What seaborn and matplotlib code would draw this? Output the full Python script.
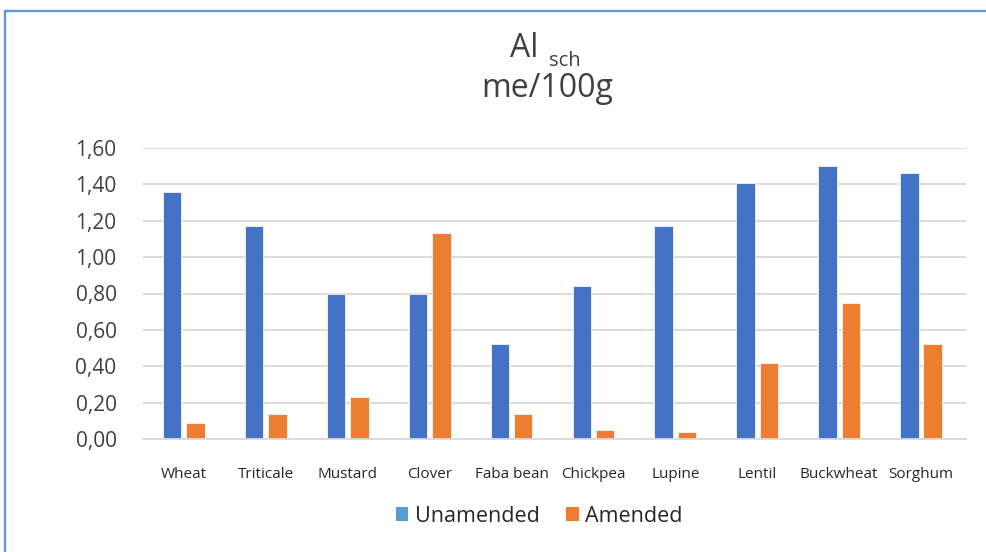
import matplotlib
matplotlib.use("Agg")
import matplotlib.pyplot as plt
from matplotlib.patches import Patch
from matplotlib.lines import Line2D
from matplotlib.ticker import FuncFormatter, FixedLocator
import numpy as np
import pandas as pd
import seaborn as sns

crops = ["Wheat", "Triticale", "Mustard", "Clover", "Faba bean",
         "Chickpea", "Lupine", "Lentil", "Buckwheat", "Sorghum"]
unamended = [1.36, 1.17, 0.80, 0.80, 0.52, 0.84, 1.17, 1.41, 1.50, 1.46]
amended = [0.09, 0.14, 0.23, 1.13, 0.14, 0.05, 0.04, 0.42, 0.75, 0.52]
series = ["Unamended", "Amended"]
y_ticks = [0.0, 0.2, 0.4, 0.6, 0.8, 1.0, 1.2, 1.4, 1.6]

BLUE = "#4472C4"
ORANGE = "#ED7D31"
LEGEND_BLUE = "#5B9BD5"
TEXT = "#404040"
GRID = "#D9D9D9"

df = pd.DataFrame({
    "crop": crops * 2,
    "value": unamended + amended,
    "treatment": [series[0]] * len(crops) + [series[1]] * len(crops),
})

sns.set_theme(style="white")
plt.rcParams["font.family"] = ["Open Sans", "DejaVu Sans"]

W, H = 987, 552
fig = plt.figure(figsize=(W / 100, H / 100), dpi=100)
ax = fig.add_axes([143 / W, 1 - 439 / H, (966 - 143) / W, (439 - 148) / H])

sns.barplot(data=df, x="crop", y="value", hue="treatment", order=crops,
            hue_order=series, palette=[BLUE, ORANGE], saturation=1,
            width=0.57, gap=0.21, edgecolor="#F4F7FC", linewidth=0.6,
            legend=False, ax=ax)

ax.set_xlim(-0.5, 9.55)
ax.set_ylim(0, 1.6)
ax.set_yticks(y_ticks)
ax.yaxis.set_major_formatter(FuncFormatter(lambda v, _: f"{v:.2f}".replace(".", ",")))
ax.yaxis.grid(True, color=GRID, linewidth=1.3)
ax.set_axisbelow(True)
ax.set_xlabel("")
ax.set_ylabel("")

for side in ["top", "right", "left"]:
    ax.spines[side].set_visible(False)
ax.spines["bottom"].set_color(GRID)
ax.spines["bottom"].set_linewidth(1.3)

ax.tick_params(axis="y", length=0, pad=19, labelsize=15, labelcolor=TEXT)
ax.tick_params(axis="x", which="major", length=0, pad=20, labelsize=11, labelcolor="#262626")
ax.xaxis.set_minor_locator(FixedLocator(np.arange(-0.5, len(crops), 1.0)))
ax.tick_params(axis="x", which="minor", length=4, width=1, color="#C8C8C8", direction="out")

# Title: "Al" with subscript "sch", then the unit line
fig.text(510 / W, 1 - 57 / H, "Al", fontsize=23, color=TEXT, va="baseline", ha="left")
fig.text(549 / W, 1 - 66.5 / H, "sch", fontsize=14.5, color=TEXT, va="baseline", ha="left")
fig.text(547 / W, 1 - 97 / H, "me/100g", fontsize=23, color=TEXT, va="baseline", ha="center")

handles = [Patch(facecolor=LEGEND_BLUE, edgecolor="none"),
           Patch(facecolor=ORANGE, edgecolor="none")]
fig.legend(handles, series, loc="center", bbox_to_anchor=(539 / W, 1 - 516 / H),
           ncol=2, frameon=False, fontsize=15.5, handlelength=0.6, handleheight=0.6,
           handletextpad=0.3, columnspacing=1.2, labelcolor="#262626")

# Chart frame along the left and top edges
frame_kw = dict(color="#5B9BD5", linewidth=1.7, transform=fig.transFigure)
fig.add_artist(Line2D([5 / W, 5 / W], [0, 1 - 11 / H], **frame_kw))
fig.add_artist(Line2D([5 / W, 1], [1 - 11 / H, 1 - 11 / H], **frame_kw))

fig.savefig("out.png", dpi=100)
